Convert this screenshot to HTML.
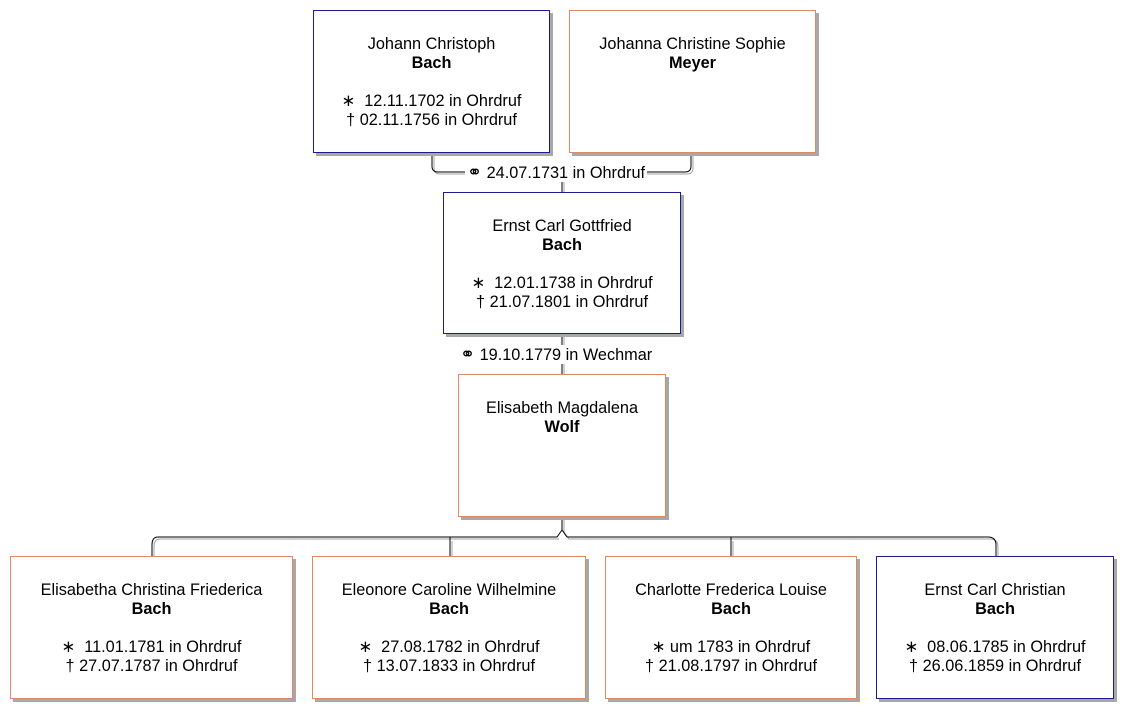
<!DOCTYPE html>
<html><head><meta charset="utf-8"><style>
body{margin:0;width:1133px;height:718px;background:#fff;position:relative;overflow:hidden;font-family:"Liberation Sans",Arial,sans-serif;font-size:16.3px;color:#000}
.b{position:absolute;background:#fff;box-sizing:border-box;text-align:center;line-height:19px;box-shadow:3px 3px 0 #a8a8a8}
.m{border:1px solid #1c1c8c}
.f{border:1px solid #d98b66}
.b .n{margin-top:24px}
.b b{display:block}
.b .d{margin-top:19px}
.lab{position:absolute;background:#fff;font-size:16.3px;line-height:18px;padding:0 2px}
.r{font-size:18px}
svg{position:absolute;left:0;top:0}
</style></head><body>
<svg width="1133" height="718">
<g fill="none" stroke="#a0a0a0" stroke-width="1">
<path d="M434,153 V168 q0,6 6,6 H687 q6,0 6,-6 V153"/>
<path d="M564,174 V192"/>
<path d="M564,334 V374"/>
<path d="M564,517 V532 l5,7 H990 q8,0 8,8 V556"/>
<path d="M559,539 H160 q-6,0 -6,8 V556"/>
<path d="M452,541 V556"/><path d="M733,541 V556"/>
</g>
<g fill="none" stroke="#000" stroke-width="1">
<path d="M432,153 V166 q0,6 6,6 H685 q6,0 6,-6 V153"/>
<path d="M562,172 V192"/>
<path d="M562,334 V374"/>
<path d="M562,517 V530 l-5,7 H158 q-6,0 -6,8 V556"/>
<path d="M562,530 l5,7 H988 q8,0 8,8 V556"/>
<path d="M450,537 V556"/><path d="M731,537 V556"/>
</g>
</svg>
<div class="lab" style="left:465px;top:163px"><span class="r">⚭</span> 24.07.1731 in Ohrdruf</div>
<div class="lab" style="left:458px;top:345px"><span class="r">⚭</span> 19.10.1779 in Wechmar</div>

<div class="b m" style="left:313px;top:10px;width:237px;height:143px"><div class="n">Johann Christoph</div><b>Bach</b><div class="d">∗&nbsp; 12.11.1702 in Ohrdruf</div><div>† 02.11.1756 in Ohrdruf</div></div>
<div class="b f" style="left:569px;top:10px;width:247px;height:143px"><div class="n">Johanna Christine Sophie</div><b>Meyer</b></div>
<div class="b m" style="left:443px;top:192px;width:238px;height:142px"><div class="n">Ernst Carl Gottfried</div><b>Bach</b><div class="d">∗&nbsp; 12.01.1738 in Ohrdruf</div><div>† 21.07.1801 in Ohrdruf</div></div>
<div class="b f" style="left:458px;top:374px;width:208px;height:143px"><div class="n">Elisabeth Magdalena</div><b>Wolf</b></div>

<div class="b f" style="left:10px;top:556px;width:283px;height:143px"><div class="n">Elisabetha Christina Friederica</div><b>Bach</b><div class="d">∗&nbsp; 11.01.1781 in Ohrdruf</div><div>† 27.07.1787 in Ohrdruf</div></div>
<div class="b f" style="left:312px;top:556px;width:274px;height:143px"><div class="n">Eleonore Caroline Wilhelmine</div><b>Bach</b><div class="d">∗&nbsp; 27.08.1782 in Ohrdruf</div><div>† 13.07.1833 in Ohrdruf</div></div>
<div class="b f" style="left:605px;top:556px;width:252px;height:143px"><div class="n">Charlotte Frederica Louise</div><b>Bach</b><div class="d">∗ um 1783 in Ohrdruf</div><div>† 21.08.1797 in Ohrdruf</div></div>
<div class="b m" style="left:876px;top:556px;width:238px;height:143px"><div class="n">Ernst Carl Christian</div><b>Bach</b><div class="d">∗&nbsp; 08.06.1785 in Ohrdruf</div><div>† 26.06.1859 in Ohrdruf</div></div>
</body></html>
